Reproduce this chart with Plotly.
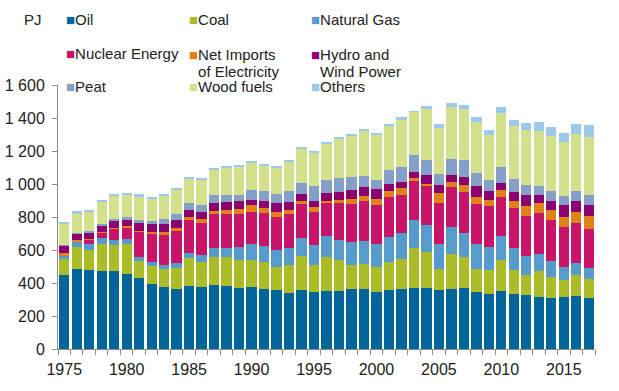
import plotly.graph_objects as go

# ---------------- data (PJ) ----------------
years = list(range(1975, 2018))

oil = [448, 485, 479, 473, 473, 455, 430, 394, 376, 364,
       382, 376, 388, 382, 370, 376, 364, 358, 340, 358,
       346, 352, 352, 364, 364, 346, 358, 364, 370, 370,
       358, 364, 370, 346, 334, 352, 334, 328, 316, 310,
       316, 322, 310]
coal = [97, 133, 121, 163, 157, 181, 103, 109, 108, 126,
        169, 151, 169, 175, 169, 163, 163, 138, 169, 205,
        163, 205, 187, 145, 151, 150, 169, 181, 241, 217,
        126, 211, 187, 138, 144, 187, 144, 120, 156, 126,
        102, 126, 114]
natural_gas = [24, 32, 36, 35, 30, 31, 25, 24, 25, 31,
               30, 42, 54, 54, 78, 96, 96, 103, 102, 108,
               120, 126, 120, 138, 138, 139, 150, 156, 169, 163,
               151, 163, 144, 151, 139, 144, 133, 115, 103, 97,
               78, 73, 66]
nuclear = [0, 0, 27, 35, 73, 72, 153, 170, 180, 193,
           199, 193, 205, 205, 199, 193, 199, 199, 205, 205,
           199, 205, 223, 229, 241, 235, 242, 230, 241, 235,
           247, 241, 248, 241, 247, 241, 241, 241, 247, 247,
           241, 241, 236]
net_imports = [12, 12, 6, 3, 3, 6, 6, 12, 19, 18,
               18, 24, 18, 24, 30, 42, 30, 30, 24, 18,
               30, 12, 24, 36, 36, 42, 36, 42, 18, 18,
               61, 36, 48, 48, 42, 37, 48, 60, 60, 60,
               61, 66, 78]
hydro_wind = [48, 35, 40, 36, 40, 37, 47, 47, 48, 48,
              42, 42, 48, 48, 48, 36, 48, 54, 48, 43,
              42, 43, 43, 49, 49, 55, 48, 42, 36, 54,
              48, 42, 48, 61, 49, 48, 49, 67, 49, 54,
              72, 66, 66]
peat = [4, 4, 6, 13, 12, 16, 18, 18, 30, 36,
        42, 42, 49, 43, 37, 55, 55, 55, 67, 72,
        85, 84, 90, 84, 72, 60, 84, 90, 103, 91,
        72, 97, 103, 84, 72, 96, 84, 66, 54, 61,
        55, 61, 61]
wood_fuels = [130, 121, 121, 135, 145, 141, 145, 139, 145, 151,
              153, 157, 156, 168, 175, 169, 157, 162, 181, 205,
              205, 217, 235, 247, 271, 271, 266, 284, 259, 307,
              277, 313, 307, 308, 271, 326, 320, 331, 337, 337,
              331, 349, 355]
others = [6, 12, 6, 6, 6, 6, 12, 6, 6, 6,
          4, 6, 6, 7, 6, 6, 12, 13, 6, 6,
          12, 6, 12, 12, 13, 12, 12, 18, 3, 18,
          25, 24, 24, 30, 30, 36, 36, 43, 55, 54,
          54, 61, 73]

series_names = ["Oil", "Coal", "Natural Gas", "Nuclear Energy",
                "Net Imports of Electricity", "Hydro and Wind Power",
                "Peat", "Wood fuels", "Others"]
legend_lines = [["Oil"], ["Coal"], ["Natural Gas"], ["Nuclear Energy"],
                ["Net Imports", "of Electricity"], ["Hydro and", "Wind Power"],
                ["Peat"], ["Wood fuels"], ["Others"]]
series_values = [oil, coal, natural_gas, nuclear, net_imports,
                 hydro_wind, peat, wood_fuels, others]
series_colors = ["#00659B", "#AABD28", "#569BCC", "#C81469", "#E08219",
                 "#8C0070", "#84A0C8", "#D4E18C", "#9CC8EB"]

x_tick_years = list(range(1975, 2016, 5))
y_tick_values = [0, 200, 400, 600, 800, 1000, 1200, 1400, 1600]
y_tick_labels = ["0", "200", "400", "600", "800", "1 000", "1 200", "1 400", "1 600"]

# ---------------- figure ----------------
W, H = 619, 391
ML, MR, MT, MB = 58, 24, 85, 42
PW, PH = W - ML - MR, H - MT - MB
FONT = "Liberation Sans, Arial, sans-serif"
TXT = "#222222"
AXC = "#8C8C8C"
GRIDC = "#BDBDBD"
LEG_SIZE = 15


def px_x(px):
    return (px - ML) / PW


def px_y(py):
    return (H - MB - py) / PH


legend_ids = ["legend"] + [f"legend{i}" for i in range(2, 10)]

fig = go.Figure()
for i, (name, vals, col) in enumerate(zip(series_names, series_values, series_colors)):
    fig.add_trace(go.Bar(
        x=years, y=vals, name=name, legendgroup=name,
        marker=dict(color=col, line=dict(width=0)),
        showlegend=False,
    ))

# legend entries: coloured square key + label, Excel-style 3x3 grid
for i, (name, lines, col) in enumerate(zip(series_names, legend_lines, series_colors)):
    sz = f"font-size:{LEG_SIZE}px"
    key = f'<span style="color:{col};{sz}">■</span>'
    pad = f'<span style="color:rgba(0,0,0,0);{sz}">■</span>'
    label = key + f'<span style="{sz}">{lines[0]}</span>' + "".join(
        "<br>" + pad + f'<span style="{sz}">{ln}</span>' for ln in lines[1:])
    fig.add_trace(go.Scatter(
        x=[None], y=[None], mode="markers", name=label, legendgroup=name,
        marker=dict(color="rgba(0,0,0,0)", size=1, line=dict(width=0)),
        legend=legend_ids[i], hoverinfo="skip", showlegend=True,
    ))

# key left edge x per column, legend top y per row
col_key_x = [67, 190, 312]
legend_layout = {}
for i, lid in enumerate(legend_ids):
    r, c = divmod(i, 3)
    lx = col_key_x[c] - 41
    two_line = len(legend_lines[i]) > 1
    if r == 0:
        ty, fsz = 3, LEG_SIZE
    elif r == 1:
        ty, fsz = (40, 13) if two_line else (37, LEG_SIZE)
    else:
        ty, fsz = 70, LEG_SIZE
    legend_layout[lid] = dict(
        x=px_x(lx), y=px_y(ty), xref="paper", yref="paper",
        xanchor="left", yanchor="top", orientation="v", valign="top",
        bgcolor="rgba(0,0,0,0)", borderwidth=0,
        font=dict(family=FONT, size=fsz, color=TXT),
    )

fig.update_layout(
    barmode="stack", bargap=0.175,
    width=W, height=H,
    margin=dict(l=ML, r=MR, t=MT, b=MB, pad=0, autoexpand=False),
    paper_bgcolor="white", plot_bgcolor="white",
    font=dict(family=FONT, size=16, color=TXT),
    showlegend=True,
    xaxis=dict(
        domain=[0, 1],
        range=[1974.5, 2017.5], tickmode="array",
        tickvals=x_tick_years, ticktext=[str(y) for y in x_tick_years],
        ticks="", showline=True, linecolor=AXC, linewidth=1,
        showgrid=False, zeroline=False, ticklabelstandoff=6, tickangle=0,
        tickfont=dict(size=16, color=TXT),
        minor=dict(ticks="outside", tickmode="linear", tick0=1974.5, dtick=1,
                   ticklen=5, tickcolor=AXC, tickwidth=1, showgrid=False),
    ),
    yaxis=dict(
        range=[0, 1600], tickmode="array",
        tickvals=y_tick_values, ticktext=y_tick_labels,
        ticks="outside", ticklen=5, tickcolor=AXC, tickwidth=1,
        showline=True, linecolor=AXC, linewidth=1,
        showgrid=False, zeroline=False, ticklabelstandoff=4,
        tickfont=dict(size=16, color=TXT),
    ),
    # gridlines 200..1400 across whole plot
    yaxis2=dict(
        overlaying="y", anchor="x", side="left", range=[0, 1600],
        tickmode="array", tickvals=y_tick_values[1:-1],
        showticklabels=False, ticks="", showline=False, zeroline=False,
        showgrid=True, gridcolor=GRIDC, griddash="dot", gridwidth=1,
    ),
    # top gridline only right of the legend block
    xaxis2=dict(domain=[px_x(429), 1], anchor="y3", visible=False,
                range=[0, 1], showgrid=False),
    yaxis3=dict(
        domain=[0, 1], anchor="x2", range=[0, 1600],
        tickmode="array", tickvals=[1600],
        showticklabels=False, ticks="", showline=False, zeroline=False,
        showgrid=True, gridcolor=GRIDC, griddash="dot", gridwidth=1,
    ),
    annotations=[dict(
        text="PJ", xref="paper", yref="paper",
        x=px_x(22), y=px_y(19),
        xanchor="left", yanchor="middle", showarrow=False,
        font=dict(family=FONT, size=15, color=TXT),
    )],
    **legend_layout,
)

fig.write_html("out.html", config={"displayModeBar": False},
               post_script="document.body.style.margin='0';")
